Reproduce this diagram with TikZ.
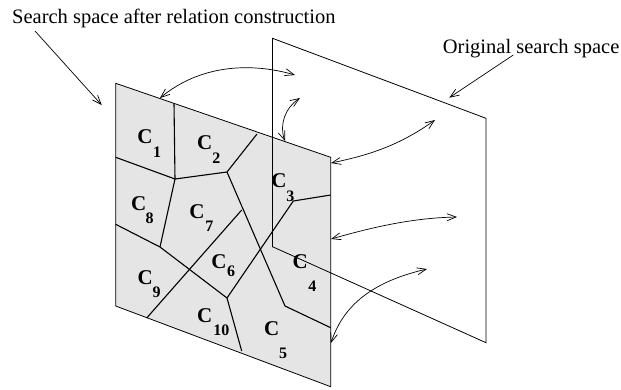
\documentclass[tikz,border=0pt]{standalone}
\usepackage{fontspec}
\setmainfont{Liberation Serif}
\usetikzlibrary{arrows.meta}
\begin{document}
\begin{tikzpicture}[x=1pt,y=-1pt,
  thin line/.style={line width=0.8pt},
  cell/.style={line width=1.1pt},
  arr/.style={line width=0.7pt,-{Straight Barb[length=9pt,width=7pt]}},
  darr/.style={line width=0.7pt,{Straight Barb[length=9pt,width=7pt]}-{Straight Barb[length=9pt,width=7pt]}},
  cl/.style={font=\fontsize{21}{21}\selectfont\bfseries,inner sep=0pt},
  cn/.style={font=\fontsize{16}{16}\selectfont\bfseries,inner sep=0pt},
  lbl/.style={font=\fontsize{20.5}{22}\selectfont,inner sep=0pt,anchor=base west}]
\useasboundingbox (0,0) rectangle (621,389);
% gray plane corners
\coordinate (g1) at (115.7,83.3);
\coordinate (g2) at (330.7,157.3);
\coordinate (g3) at (330.7,386.7);
\coordinate (g4) at (115.7,306);
\fill[black!10] (g1) -- (g2) -- (g3) -- (g4) -- cycle;
% cell vertices
\coordinate (A) at (175,179);
\coordinate (B) at (227,172);
\coordinate (C) at (160,247);
\coordinate (D) at (227,298);
\coordinate (E) at (293.3,201);
\coordinate (F) at (285,306);
\coordinate (t1) at (174,103.3);
\coordinate (l1) at (115.7,157.3);
\coordinate (t2) at (257,134);
\coordinate (l2) at (115.7,224.3);
\coordinate (b1) at (241.7,351);
\coordinate (r1) at (330.7,195);
\coordinate (u7) at (241.7,210);
\coordinate (b2) at (146.7,318);
\coordinate (r2) at (330.7,327.7);
\draw[cell] (t1) -- (A);
\draw[cell] (l1) -- (A) -- (B) -- (t2);
\draw[cell] (A) -- (C);
\draw[cell] (l2) -- (C) -- (D) -- (b1);
\draw[cell] (D) -- (E) -- (r1);
\draw[cell] (u7) -- (b2);
\draw[cell] (B) -- (F) -- (r2);
\draw[thin line] (g1) -- (g2) -- (g3) -- (g4) -- cycle;
% original plane
\coordinate (o1) at (272.5,38.3);
\coordinate (o2) at (486,118.3);
\coordinate (o3) at (486,342.7);
\coordinate (o4) at (272.5,246.7);
\draw[thin line] (o1) -- (o2) -- (o3) -- (o4) -- cycle;
% labels
\node[cl] (c1) at (145,137) {C}; \node[cn] (n1) at (157,152) {1};
\node[cl] (c2) at (204.7,143) {C}; \node[cn] (n2) at (216.3,158.3) {2};
\node[cl] (c3) at (279,180.3) {C}; \node[cn] (n3) at (290.3,196) {3};
\node[cl] (c4) at (300.3,262) {C}; \node[cn] (n4) at (312.3,286) {4};
\node[cl] (c5) at (271.7,329) {C}; \node[cn] (n5) at (283,353) {5};
\node[cl] (c6) at (219,261.7) {C}; \node[cn] (n6) at (231,271) {6};
\node[cl] (c7) at (197,212) {C}; \node[cn] (n7) at (209.3,226.3) {7};
\node[cl] (c8) at (138.7,203.7) {C}; \node[cn] (n8) at (149.7,218) {8};
\node[cl] (c9) at (145.3,277.7) {C}; \node[cn] (n9) at (156.7,292) {9};
\node[cl] (c10) at (204.7,315.3) {C}; \node[cn] (n10) at (221.3,330) {10};
\node[lbl] (t) at (12,23) {Search space after relation construction};
\node[lbl] (o) at (442.7,53.3) {Original search space};
% pointer arrows
\coordinate (p1s) at (35,31);
\coordinate (p1e) at (101.7,105);
\draw[arr] (p1s) -- (p1e);
\coordinate (p2s) at (513.3,55);
\coordinate (p2e) at (449.3,97.7);
\draw[arr] (p2s) -- (p2e);
% correspondence arrows
\coordinate (a1) at (160,98);  \coordinate (a2) at (295,75);
\draw[darr] (a1) .. controls (200,65) and (250,62) .. (a2);
\coordinate (b1s) at (285,141); \coordinate (b2e) at (300,98);
\draw[darr] (b1s) .. controls (279,125) and (285,108) .. (b2e);
\coordinate (c1s) at (331,163); \coordinate (c2e) at (435,120);
\draw[darr] (c1s) .. controls (370,155) and (400,145) .. (c2e);
\coordinate (d1s) at (331,239); \coordinate (d2e) at (457,217);
\draw[darr] (d1s) .. controls (370,228) and (410,218) .. (d2e);
\coordinate (e1s) at (331,343); \coordinate (e2e) at (427,269);
\draw[darr] (e1s) .. controls (345,300) and (380,280) .. (e2e);
\end{tikzpicture}
\end{document}
